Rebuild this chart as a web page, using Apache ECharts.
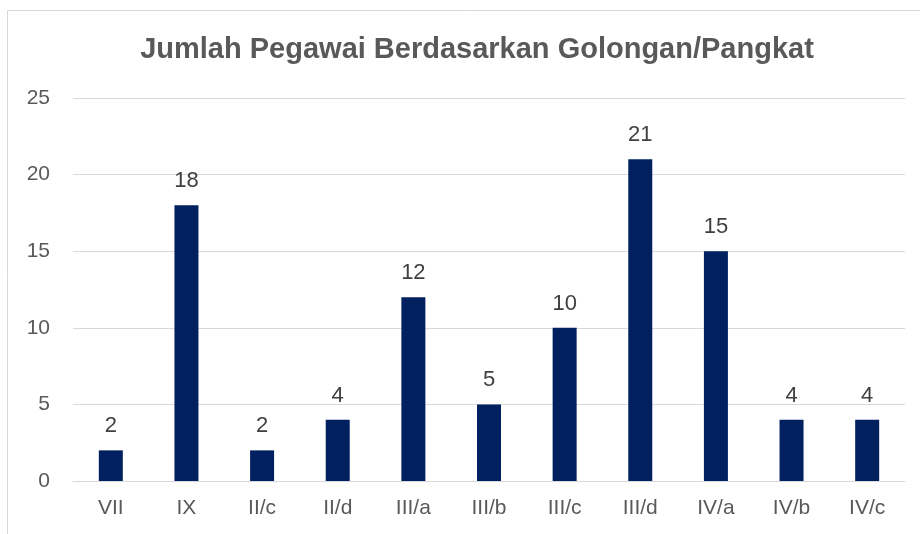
<!DOCTYPE html>
<html>
<head>
<meta charset="utf-8">
<script src="https://cdn.jsdelivr.net/npm/echarts@6/dist/echarts.min.js"></script>
<style>
  html, body { margin: 0; padding: 0; background: #fff; }
  #chart { width: 920px; height: 534px; }
</style>
</head>
<body>
<div id="chart"></div>
<script>
var categories = ['VII', 'IX', 'II/c', 'II/d', 'III/a', 'III/b', 'III/c', 'III/d', 'IV/a', 'IV/b', 'IV/c'];
var values = [2, 18, 2, 4, 12, 5, 10, 21, 15, 4, 4];
var chartTitle = 'Jumlah Pegawai Berdasarkan Golongan/Pangkat';

var chart = echarts.init(document.getElementById('chart'));
var font = '"Liberation Sans", Arial, sans-serif';

chart.setOption({
    backgroundColor: '#fff',
    animation: false,
    graphic: [{
        type: 'rect',
        shape: { x: 7.5, y: 10.5, width: 1000, height: 1000 },
        style: { fill: 'none', stroke: '#d9d9d9', lineWidth: 1 },
        silent: true
    }],
    title: {
        text: chartTitle,
        left: 472,
        top: 30,
        textAlign: 'center',
        textStyle: { fontFamily: font, fontSize: 29, fontWeight: 'bold', color: '#595959' }
    },
    grid: { left: 73, right: 15, top: 98, bottom: 53 },
    xAxis: {
        type: 'category',
        data: categories,
        axisLine: { lineStyle: { color: '#d9d9d9', width: 1 } },
        axisTick: { show: false },
        axisLabel: { color: '#595959', fontFamily: font, fontSize: 21, margin: 17 }
    },
    yAxis: {
        type: 'value',
        min: 0,
        max: 25,
        interval: 5,
        axisLine: { show: false },
        axisTick: { show: false },
        splitLine: { lineStyle: { color: '#d9d9d9', width: 1 } },
        axisLabel: { color: '#595959', fontFamily: font, fontSize: 21, margin: 23 }
    },
    series: [{
        type: 'bar',
        data: values,
        barWidth: 24,
        itemStyle: { color: '#002060' },
        label: {
            show: true,
            position: 'top',
            distance: 13,
            color: '#404040',
            fontFamily: font,
            fontSize: 22
        }
    }]
});
</script>
</body>
</html>
